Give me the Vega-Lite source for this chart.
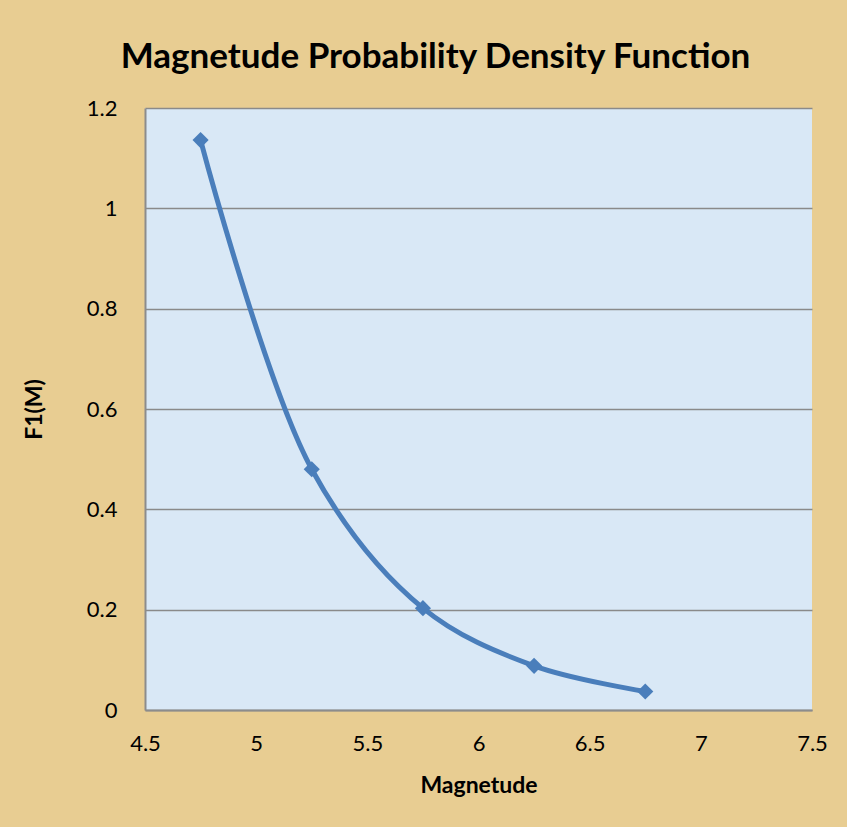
{
  "$schema": "https://vega.github.io/schema/vega-lite/v6.json",
  "autosize": "none",
  "width": 667,
  "height": 602,
  "padding": {"left": 145, "top": 108, "right": 35, "bottom": 117},
  "background": "#e8cd92",
  "title": {
    "text": "Magnetude Probability Density Function",
    "font": "Lato",
    "fontSize": 35,
    "fontWeight": "bold",
    "color": "#000000",
    "anchor": "middle",
    "dx": -43,
    "offset": 22
  },
  "data": {
    "values": [
      {"Magnetude": 4.75, "F1": 1.136},
      {"Magnetude": 5.25, "F1": 0.48},
      {"Magnetude": 5.75, "F1": 0.203},
      {"Magnetude": 6.25, "F1": 0.088},
      {"Magnetude": 6.75, "F1": 0.037}
    ]
  },
  "config": {
    "view": {"fill": "#d9e8f6", "stroke": null},
    "axis": {
      "labelFont": "Lato",
      "labelFontSize": 22,
      "labelColor": "#000000",
      "titleFont": "Lato",
      "titleFontSize": 23,
      "titleFontWeight": "bold",
      "titleColor": "#000000",
      "ticks": false,
      "domainColor": "#8c8c8c",
      "domainWidth": 2
    }
  },
  "encoding": {
    "x": {
      "field": "Magnetude",
      "type": "quantitative",
      "scale": {"domain": [4.5, 7.5], "nice": false, "zero": false},
      "axis": {
        "title": "Magnetude",
        "values": [4.5, 5, 5.5, 6, 6.5, 7, 7.5],
        "format": "~g",
        "grid": false,
        "labelPadding": 23,
        "titlePadding": 20,
        "labelFlush": false
      }
    },
    "y": {
      "field": "F1",
      "type": "quantitative",
      "scale": {"domain": [0, 1.2], "nice": false},
      "axis": {
        "title": "F1(M)",
        "values": [0, 0.2, 0.4, 0.6, 0.8, 1, 1.2],
        "format": "~g",
        "grid": true,
        "gridColor": "#8a8a8a",
        "gridWidth": 1.3,
        "gridOpacity": 1,
        "labelPadding": 28,
        "titlePadding": 40,
        "labelFlush": false
      }
    }
  },
  "layer": [
    {
      "mark": {"type": "line", "interpolate": "catmull-rom", "color": "#4a7ebb", "strokeWidth": 5}
    },
    {
      "mark": {"type": "point", "shape": "diamond", "filled": true, "color": "#4a7ebb", "opacity": 1, "size": 260}
    }
  ]
}
